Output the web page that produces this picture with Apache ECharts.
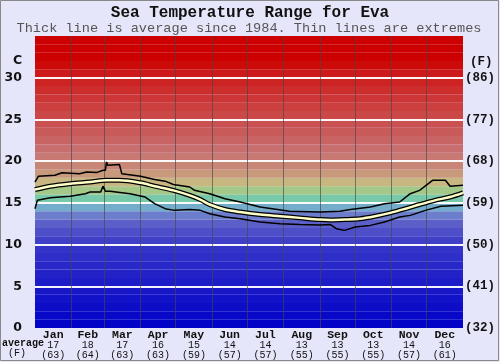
<!DOCTYPE html>
<html><head><meta charset="utf-8">
<script src="https://cdn.jsdelivr.net/npm/echarts@6/dist/echarts.min.js"></script>
<style>html,body{margin:0;padding:0;background:#e6e6fa;}#c{width:500px;height:362px;}</style>
</head><body><div id="c"></div>
<script>
// ---- data ----
const titleText = 'Sea Temperature Range for Eva';
const subtitleText = 'Thick line is average since 1984. Thin lines are extremes';
const months = ['Jan','Feb','Mar','Apr','May','Jun','Jul','Aug','Sep','Oct','Nov','Dec'];
const monthAvgC = [17,18,17,16,15,14,14,13,13,13,14,16];
const monthAvgF = ['(63)','(64)','(63)','(63)','(59)','(57)','(57)','(55)','(55)','(55)','(57)','(61)'];
const monthStarts = [0,31,59,90,120,151,181,212,243,273,304,334,365];
const yTicksC = [0,5,10,15,20,25,30,35];
const yTicksF = ['(32)','(41)','(50)','(59)','(68)','(77)','(86)',''];

const avgDays  = [0,13,30,47,61,72,90,102,118,132,141,149,162,175,192,209,226,243,252,264,277,290,303,316,328,341,354,365];
const avgTemps = [16.6,17.0,17.3,17.5,17.7,17.7,17.4,17.0,16.5,15.9,15.4,14.8,14.2,13.9,13.6,13.4,13.2,13.0,12.95,13.0,13.1,13.4,13.8,14.3,14.8,15.3,15.7,16.2];

const maxDays  = [0,3,17,23,38,44,53,58,60,61,62,72,74,90,102,111,118,132,136,149,162,175,192,217,243,260,269,286,298,311,320,328,339,350,354,365];
const maxTemps = [17.5,18.2,18.3,18.6,18.5,18.7,18.65,18.9,18.9,19.9,19.5,19.6,18.5,18.2,17.8,17.6,17.2,16.9,16.5,16.1,15.5,15.1,14.5,14.0,13.9,14.0,14.2,14.5,14.9,15.1,16.1,16.5,17.7,17.7,17.0,17.1];

const minDays  = [0,2,13,30,43,47,56,58,60,64,81,94,102,111,119,132,141,149,162,175,192,209,226,243,252,257,264,273,286,298,311,320,333,346,365];
const minTemps = [14.3,15.3,15.6,15.8,16.1,16.3,16.3,17.0,16.4,16.4,16.1,15.7,14.9,14.3,14.1,14.2,14.1,13.7,13.3,13.1,12.7,12.5,12.4,12.35,12.4,11.9,11.7,12.1,12.3,12.7,13.3,13.5,14.1,14.6,14.7];

// ---- styling helpers ----
const colorStops = [
  [0,[0,0,200]],[5,[25,25,200]],[10,[55,55,200]],[12,[85,85,200]],[13,[100,105,200]],
  [14,[115,145,205]],[15,[115,200,200]],[16,[125,200,140]],[17,[200,200,130]],
  [18,[200,165,125]],[19,[200,140,120]],[21,[200,115,115]],[24,[200,85,85]],
  [28,[205,50,50]],[31,[205,20,20]],[32,[204,0,0]],[35,[204,0,0]]
];
function bandColor(v){
  for(let i=0;i<colorStops.length-1;i++){
    const a=colorStops[i],b=colorStops[i+1];
    if(v>=a[0]&&v<=b[0]){
      const t=(v-a[0])/(b[0]-a[0]);
      const c=a[1].map((x,k)=>Math.round(x+(b[1][k]-x)*t));
      return 'rgb('+c.join(',')+')';
    }
  }
  return 'rgb(204,0,0)';
}
const bands=[];
for(let v=0;v<35;v++){
  bands.push([{yAxis:v,itemStyle:{color:bandColor(v+0.5)}},{yAxis:v+1}]);
}
const mids = months.map((m,i)=>(monthStarts[i]+monthStarts[i+1])/2);
const pair=(d,t)=>d.map((x,i)=>[x,t[i]]);

const chart = echarts.init(document.getElementById('c'),null,{renderer:'canvas'});
chart.setOption({
  animation:false,
  backgroundColor:'#e6e6fa',
  grid:{left:35,right:37,top:36,bottom:34,containLabel:false},
  xAxis:{
    type:'value',min:0,max:365,
    splitLine:{show:false},axisTick:{show:false},axisLine:{show:false},
    axisLabel:{
      customValues:mids, margin:2,
      formatter:function(v){
        const i=mids.findIndex(m=>Math.abs(m-v)<0.01);
        if(i<0) return '';
        return '{m|'+months[i]+'}\n{c|'+monthAvgC[i]+'}\n{f|'+monthAvgF[i]+'}';
      },
      rich:{
        m:{fontFamily:'Liberation Mono',fontWeight:'bold',fontSize:11.5,lineHeight:10,color:'#111'},
        c:{fontFamily:'Liberation Mono',fontSize:10,lineHeight:10,color:'#111'},
        f:{fontFamily:'Liberation Mono',fontSize:10,lineHeight:10,color:'#111'}
      }
    }
  },
  yAxis:[{
    type:'value',min:0,max:35,interval:5,
    splitLine:{show:false},axisTick:{show:false},axisLine:{show:false},
    axisLabel:{margin:13,fontFamily:'DejaVu Sans',fontWeight:'bold',fontSize:12.5,color:'#111',
      formatter:function(v){return v===35?'':String(v);}}
  },{
    type:'value',min:0,max:35,interval:5,position:'right',
    splitLine:{show:false},axisTick:{show:false},axisLine:{show:false},
    axisLabel:{margin:2,fontFamily:'Liberation Mono',fontWeight:'bold',fontSize:12.5,color:'#111',padding:[4,0,0,0],
      formatter:function(v){return yTicksF[yTicksC.indexOf(v)]||'';}}
  }],
  graphic:[
    {type:'text',x:250,y:13,style:{text:titleText,font:'bold 16px "Liberation Mono"',fill:'#111',align:'center',verticalAlign:'middle'}},
    {type:'text',x:249,y:28,style:{text:subtitleText,font:'13.6px "Liberation Mono"',fill:'#555',align:'center',verticalAlign:'middle'}},
    {type:'text',left:13,top:54,style:{text:'C',font:'bold 12.5px "DejaVu Sans"',fill:'#111'}},
    {type:'text',left:470,top:55,style:{text:'(F)',font:'bold 12.5px "Liberation Mono"',fill:'#111'}},
    {type:'text',left:2,top:338,style:{text:'average',font:'bold 10px "Liberation Mono"',fill:'#111'}},
    {type:'text',left:8,top:348,style:{text:'(F)',font:'10px "Liberation Mono"',fill:'#111'}},
    {type:'rect',shape:{x:0.5,y:0.5,width:498,height:360},style:{fill:null,stroke:'#888',lineWidth:1},z:100}
  ],
  series:[
    {
      type:'line',data:[],z:1,silent:true,
      markArea:{silent:true,z:1,data:bands},
      markLine:{silent:true,symbol:'none',z:2,label:{show:false},
        data:[
          ...yTicksC.slice(1,7).map(v=>({yAxis:v,lineStyle:{color:'rgba(255,255,255,0.95)',width:2,type:'solid'}})),
          ...monthStarts.slice(1,12).map(d=>({xAxis:d,lineStyle:{color:'rgba(70,70,70,0.65)',width:1,type:'solid'}}))
        ]}
    },
    {type:'line',data:pair(maxDays,maxTemps),showSymbol:false,z:5,lineStyle:{color:'#000',width:1.5},silent:true},
    {type:'line',data:pair(minDays,minTemps),showSymbol:false,z:5,lineStyle:{color:'#000',width:1.5},silent:true},
    {type:'line',data:pair(avgDays,avgTemps),showSymbol:false,z:6,smooth:0.3,lineStyle:{color:'#000',width:5},silent:true},
    {type:'line',data:pair(avgDays,avgTemps),showSymbol:false,z:7,smooth:0.3,lineStyle:{color:'#ffffc8',width:2.5},silent:true}
  ]
});
</script></body></html>
